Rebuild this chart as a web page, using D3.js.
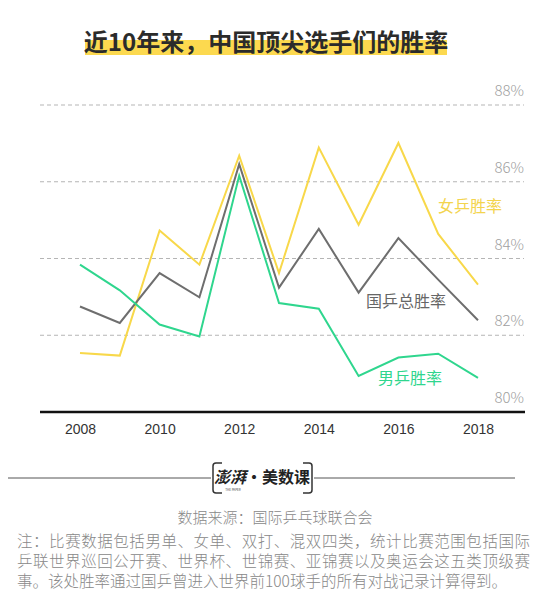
<!DOCTYPE html>
<html>
<head>
<meta charset="utf-8">
<script src="https://cdn.jsdelivr.net/npm/d3@7"></script>
<style>
  body { margin: 0; background: #fff; }
  svg { display: block; font-family: "Noto Sans CJK SC", "Noto Sans", sans-serif; }
</style>
</head>
<body>
<svg width="550" height="606"></svg>
<script>
// 数据：近10年中国顶尖选手胜率 (%)
const years = [2008, 2009, 2010, 2011, 2012, 2013, 2014, 2015, 2016, 2017, 2018];
const womenRate = [81.54, 81.47, 84.73, 83.84, 86.68, 83.62, 86.89, 84.88, 87.01, 84.64, 83.32];
const totalRate = [82.75, 82.32, 83.62, 82.99, 86.46, 83.24, 84.77, 83.11, 84.53, 83.45, 82.39];
const menRate   = [83.84, 83.17, 82.28, 81.97, 86.16, 82.84, 82.69, 80.94, 81.42, 81.52, 80.89];
const yTicks = [80, 82, 84, 86, 88];
const xTicks = [2008, 2010, 2012, 2014, 2016, 2018];

const series = [
  { name: "女乒胜率",   values: womenRate, color: "#f8d84a", labelX: 470, labelY: 205, labelColor: "#f3d44e" },
  { name: "国乒总胜率", values: totalRate, color: "#6e6e6e", labelX: 406, labelY: 300, labelColor: "#666" },
  { name: "男乒胜率",   values: menRate,   color: "#2fd68e", labelX: 410, labelY: 377, labelColor: "#2fd68e" }
];

const svg = d3.select("svg");

const x = d3.scaleLinear().domain([2008, 2018]).range([80, 478]);
const y = d3.scaleLinear().domain([80, 88]).range([412, 105]);

// 标题
svg.append("rect")
  .attr("x", 85).attr("y", 40)
  .attr("width", 362).attr("height", 15)
  .attr("fill", "#fcd94f");
svg.append("text")
  .attr("x", 266).attr("y", 51)
  .attr("text-anchor", "middle")
  .attr("font-size", 24)
  .attr("font-weight", 700)
  .attr("fill", "#2b2b2b")
  .text("近10年来，中国顶尖选手们的胜率");

// 网格线 + y 轴标签
const grid = svg.append("g");
yTicks.filter(d => d > 80).forEach(d => {
  grid.append("line")
    .attr("x1", 40).attr("x2", 524)
    .attr("y1", y(d)).attr("y2", y(d))
    .attr("stroke", "#b5b5b5")
    .attr("stroke-width", 1)
    .attr("stroke-dasharray", "4,3");
});
yTicks.forEach(d => {
  grid.append("text")
    .attr("x", 524).attr("y", y(d) - 9)
    .attr("text-anchor", "end")
    .attr("font-size", 15)
    .attr("font-weight", 300)
    .attr("fill", "#a0a0a0")
    .text(d + "%");
});

// x 轴
svg.append("line")
  .attr("x1", 40).attr("x2", 525)
  .attr("y1", y(80)).attr("y2", y(80))
  .attr("stroke", "#111")
  .attr("stroke-width", 2.5);

const xAxis = d3.axisBottom(x)
  .tickValues(xTicks)
  .tickFormat(d3.format("d"))
  .tickSize(0)
  .tickPadding(12);
svg.append("g")
  .attr("transform", `translate(0,${y(80)})`)
  .call(xAxis)
  .call(g => g.select(".domain").remove())
  .call(g => g.selectAll("text")
    .attr("font-size", 14)
    .attr("fill", "#333")
    .attr("font-family", "'Liberation Sans', Arial, sans-serif"));

// 折线
const line = d3.line()
  .x((d, i) => x(years[i]))
  .y(d => y(d));

series.forEach(s => {
  svg.append("path")
    .datum(s.values)
    .attr("fill", "none")
    .attr("stroke", s.color)
    .attr("stroke-width", 2)
    .attr("stroke-linejoin", "miter")
    .attr("d", line);

  svg.append("text")
    .attr("x", s.labelX).attr("y", s.labelY)
    .attr("text-anchor", "middle")
    .attr("dominant-baseline", "central")
    .attr("font-size", 16)
    .attr("fill", s.labelColor)
    .text(s.name);
});

// 底部 logo
svg.append("line")
  .attr("x1", 8).attr("x2", 211)
  .attr("y1", 478).attr("y2", 478)
  .attr("stroke", "#555").attr("stroke-width", 1);
svg.append("line")
  .attr("x1", 314).attr("x2", 515)
  .attr("y1", 478).attr("y2", 478)
  .attr("stroke", "#555").attr("stroke-width", 1);
svg.append("path")
  .attr("d", "M222,463 L216,463 Q213,463 213,466 L213,490 Q213,493 216,493 L222,493 " +
             "M303,463 L309,463 Q312,463 312,466 L312,490 Q312,493 309,493 L303,493")
  .attr("fill", "none")
  .attr("stroke", "#333")
  .attr("stroke-width", 1.5);
const logo = svg.append("text")
  .attr("x", 262).attr("y", 483)
  .attr("text-anchor", "middle")
  .attr("font-size", 16)
  .attr("fill", "#222");
logo.append("tspan").attr("font-style", "italic").attr("font-weight", 700).text("澎湃");
logo.append("tspan").attr("font-weight", 700).text("·美数课");
svg.append("text")
  .attr("x", 233).attr("y", 491)
  .attr("text-anchor", "middle")
  .attr("font-size", 3)
  .attr("fill", "#444")
  .text("THE PAPER");

// 数据来源与注释
svg.append("text")
  .attr("x", 275).attr("y", 516)
  .attr("text-anchor", "middle")
  .attr("dominant-baseline", "central")
  .attr("font-size", 15)
  .attr("font-weight", 300)
  .attr("fill", "#888")
  .text("数据来源：国际乒乓球联合会");

const notes = [
  "注：比赛数据包括男单、女单、双打、混双四类，统计比赛范围包括国际",
  "乒联世界巡回公开赛、世界杯、世锦赛、亚锦赛以及奥运会这五类顶级赛",
  "事。该处胜率通过国乒曾进入世界前100球手的所有对战记录计算得到。"
];
svg.append("g").selectAll("text")
  .data(notes)
  .join("text")
  .attr("x", 17)
  .attr("y", (d, i) => 540 + i * 20)
  .attr("dominant-baseline", "central")
  .attr("font-size", 15.5)
  .attr("font-weight", 300)
  .attr("fill", "#888")
  .attr("textLength", (d, i) => i < 2 ? 513 : null)
  .text(d => d);
</script>
</body>
</html>
